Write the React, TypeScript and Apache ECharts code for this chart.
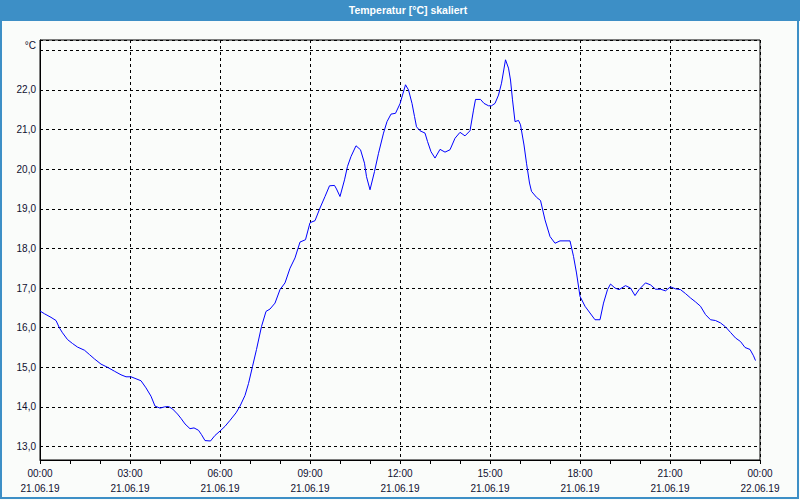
import React, { useEffect, useRef } from "react";
import * as echarts from "echarts";

// minutes since 21.06.19 00:00
const times: number[] = [
  0, 9, 22, 32, 39, 45, 55, 65, 75, 89, 99, 109, 122, 135, 149, 162, 172, 182, 192, 202,
  212, 222, 230, 240, 249, 257, 265, 275, 282, 290, 300, 308, 317, 323, 330, 341, 350, 360, 370, 380,
  392, 400, 410, 417, 425, 433, 443, 452, 460, 470, 480, 490, 500, 510, 520, 531, 540, 550, 560, 570,
  579, 589, 593, 600, 609, 615, 622, 632, 641, 649, 653, 660, 669, 677, 687, 694, 702, 711, 720, 725,
  731, 737, 744, 749, 753, 760, 770, 775, 782, 790, 800, 810, 820, 830, 840, 850, 860, 867, 871, 881,
  888, 897, 903, 910, 917, 923, 931, 937, 941, 945, 950, 957, 961, 968, 973, 979, 983, 993, 1001, 1010,
  1020, 1030, 1040, 1050, 1060, 1067, 1073, 1080, 1090, 1100, 1110, 1120, 1127, 1135, 1141, 1150, 1158, 1171, 1181, 1190,
  1198, 1211, 1221, 1231, 1241, 1251, 1261, 1271, 1281, 1291, 1301, 1311, 1321, 1331, 1341, 1351, 1361, 1371, 1381, 1391,
  1401, 1410, 1420, 1427, 1431,
];

const temperatures: number[] = [
  16.42, 16.35, 16.26, 16.18, 15.99, 15.87, 15.70, 15.60, 15.51, 15.43, 15.32, 15.21, 15.08, 15.00, 14.90, 14.81, 14.76, 14.76, 14.71, 14.66,
  14.48, 14.27, 14.02, 13.97, 14.00, 14.01, 13.95, 13.82, 13.71, 13.57, 13.45, 13.47, 13.41, 13.30, 13.15, 13.14, 13.28, 13.39, 13.51, 13.66,
  13.85, 14.02, 14.29, 14.59, 15.02, 15.45, 16.03, 16.41, 16.47, 16.62, 16.96, 17.13, 17.50, 17.76, 18.16, 18.22, 18.65, 18.70, 19.02, 19.31,
  19.58, 19.59, 19.50, 19.31, 19.73, 20.07, 20.32, 20.59, 20.49, 20.15, 19.81, 19.48, 19.94, 20.40, 20.91, 21.20, 21.39, 21.41, 21.65, 21.87,
  22.13, 22.00, 21.66, 21.33, 21.07, 20.97, 20.91, 20.70, 20.44, 20.28, 20.50, 20.43, 20.49, 20.78, 20.93, 20.84, 20.97, 21.49, 21.76, 21.76,
  21.66, 21.60, 21.60, 21.66, 21.87, 22.17, 22.76, 22.55, 22.25, 21.75, 21.20, 21.23, 21.12, 20.61, 20.15, 19.65, 19.44, 19.29, 19.21, 18.72,
  18.30, 18.13, 18.19, 18.19, 18.19, 17.80, 17.38, 16.79, 16.54, 16.37, 16.20, 16.20, 16.62, 16.96, 17.10, 17.00, 16.96, 17.06, 17.00, 16.81,
  16.96, 17.13, 17.08, 16.97, 16.97, 16.93, 17.03, 16.98, 16.96, 16.86, 16.75, 16.65, 16.54, 16.33, 16.20, 16.18, 16.12, 16.02, 15.88, 15.74,
  15.65, 15.50, 15.45, 15.29, 15.17,
];

const dateLabels: string[] = ["21.06.19", "22.06.19"];
const titleText = "Temperatur [°C] skaliert";
const unitText = "°C";

export default function App() {
  const ref = useRef<HTMLDivElement>(null);
  useEffect(() => {
    if (!ref.current) return;
    const chart = echarts.init(ref.current, null, { renderer: "svg" });
    const font = "Liberation Sans";
    const data = times.map((t, i) => [t, temperatures[i]]);
    chart.setOption({
      animation: false,
      backgroundColor: "#fafcfa",
      textStyle: { fontFamily: font },
      graphic: [
        {
          type: "rect",
          z: -10,
          shape: { x: 1, y: 1, width: 797, height: 497 },
          style: { fill: "#fafcfa", stroke: "#3d8fc6", lineWidth: 2 },
          silent: true,
        },
        {
          type: "rect",
          z: -9,
          shape: { x: 0, y: 0, width: 800, height: 21 },
          style: { fill: "#3d8fc6" },
          silent: true,
        },
        {
          type: "text",
          x: 408,
          y: 10,
          style: {
            text: titleText,
            fill: "#ffffff",
            font: `bold 10.5px "${font}"`,
            textAlign: "center",
            textVerticalAlign: "middle",
          },
        },
      ],
      grid: {
        left: 40,
        right: 40,
        top: 40,
        bottom: 40,
        show: true,
        borderColor: "#000",
        borderWidth: 1,
        backgroundColor: "transparent",
      },
      xAxis: {
        type: "value",
        min: 0,
        max: 1440,
        interval: 180,
        axisLine: { show: true, lineStyle: { color: "#000", width: 1 } },
        axisTick: { show: true, length: 4, lineStyle: { color: "#000" } },
        minorTick: { show: true, splitNumber: 3, length: 4, lineStyle: { color: "#000" } },
        splitLine: { show: true, lineStyle: { color: "#000", type: [3, 3], width: 1 } },
        axisLabel: {
          color: "#101030",
          fontSize: 10,
          fontFamily: font,
          lineHeight: 15,
          margin: 6,
          formatter: (v: number) => {
            const h = Math.round(v / 60) % 24;
            const hh = (h < 10 ? "0" : "") + h + ":00";
            return hh + "\n" + (v >= 1440 ? dateLabels[1] : dateLabels[0]);
          },
        },
      },
      yAxis: {
        type: "value",
        min: 12.66,
        max: 23.26,
        splitNumber: 10,
        name: unitText,
        nameLocation: "end",
        nameGap: -5,
        nameTextStyle: {
          color: "#101030",
          fontSize: 10,
          fontFamily: font,
          align: "right",
          verticalAlign: "middle",
          padding: [0, 4, 0, 0],
        },
        axisLine: { show: true, lineStyle: { color: "#000", width: 1 } },
        axisTick: { show: false },
        splitLine: { show: true, lineStyle: { color: "#000", type: [3, 3], width: 1 } },
        axisLabel: {
          color: "#101030",
          fontSize: 10,
          fontFamily: font,
          margin: 4,
          formatter: (v: number) => {
            if (Math.abs(v - Math.round(v)) > 1e-6) return "";
            if (v >= 23) return "";
            return v.toFixed(1).replace(".", ",");
          },
        },
      },
      series: [
        {
          type: "line",
          data,
          showSymbol: false,
          symbol: "none",
          lineStyle: { color: "#0000ff", width: 1 },
          itemStyle: { color: "#0000ff" },
        },
      ],
    });
    return () => chart.dispose();
  }, []);
  return (
    <div
      ref={ref}
      style={{ position: "fixed", left: 0, top: 0, width: 800, height: 500 }}
    />
  );
}
